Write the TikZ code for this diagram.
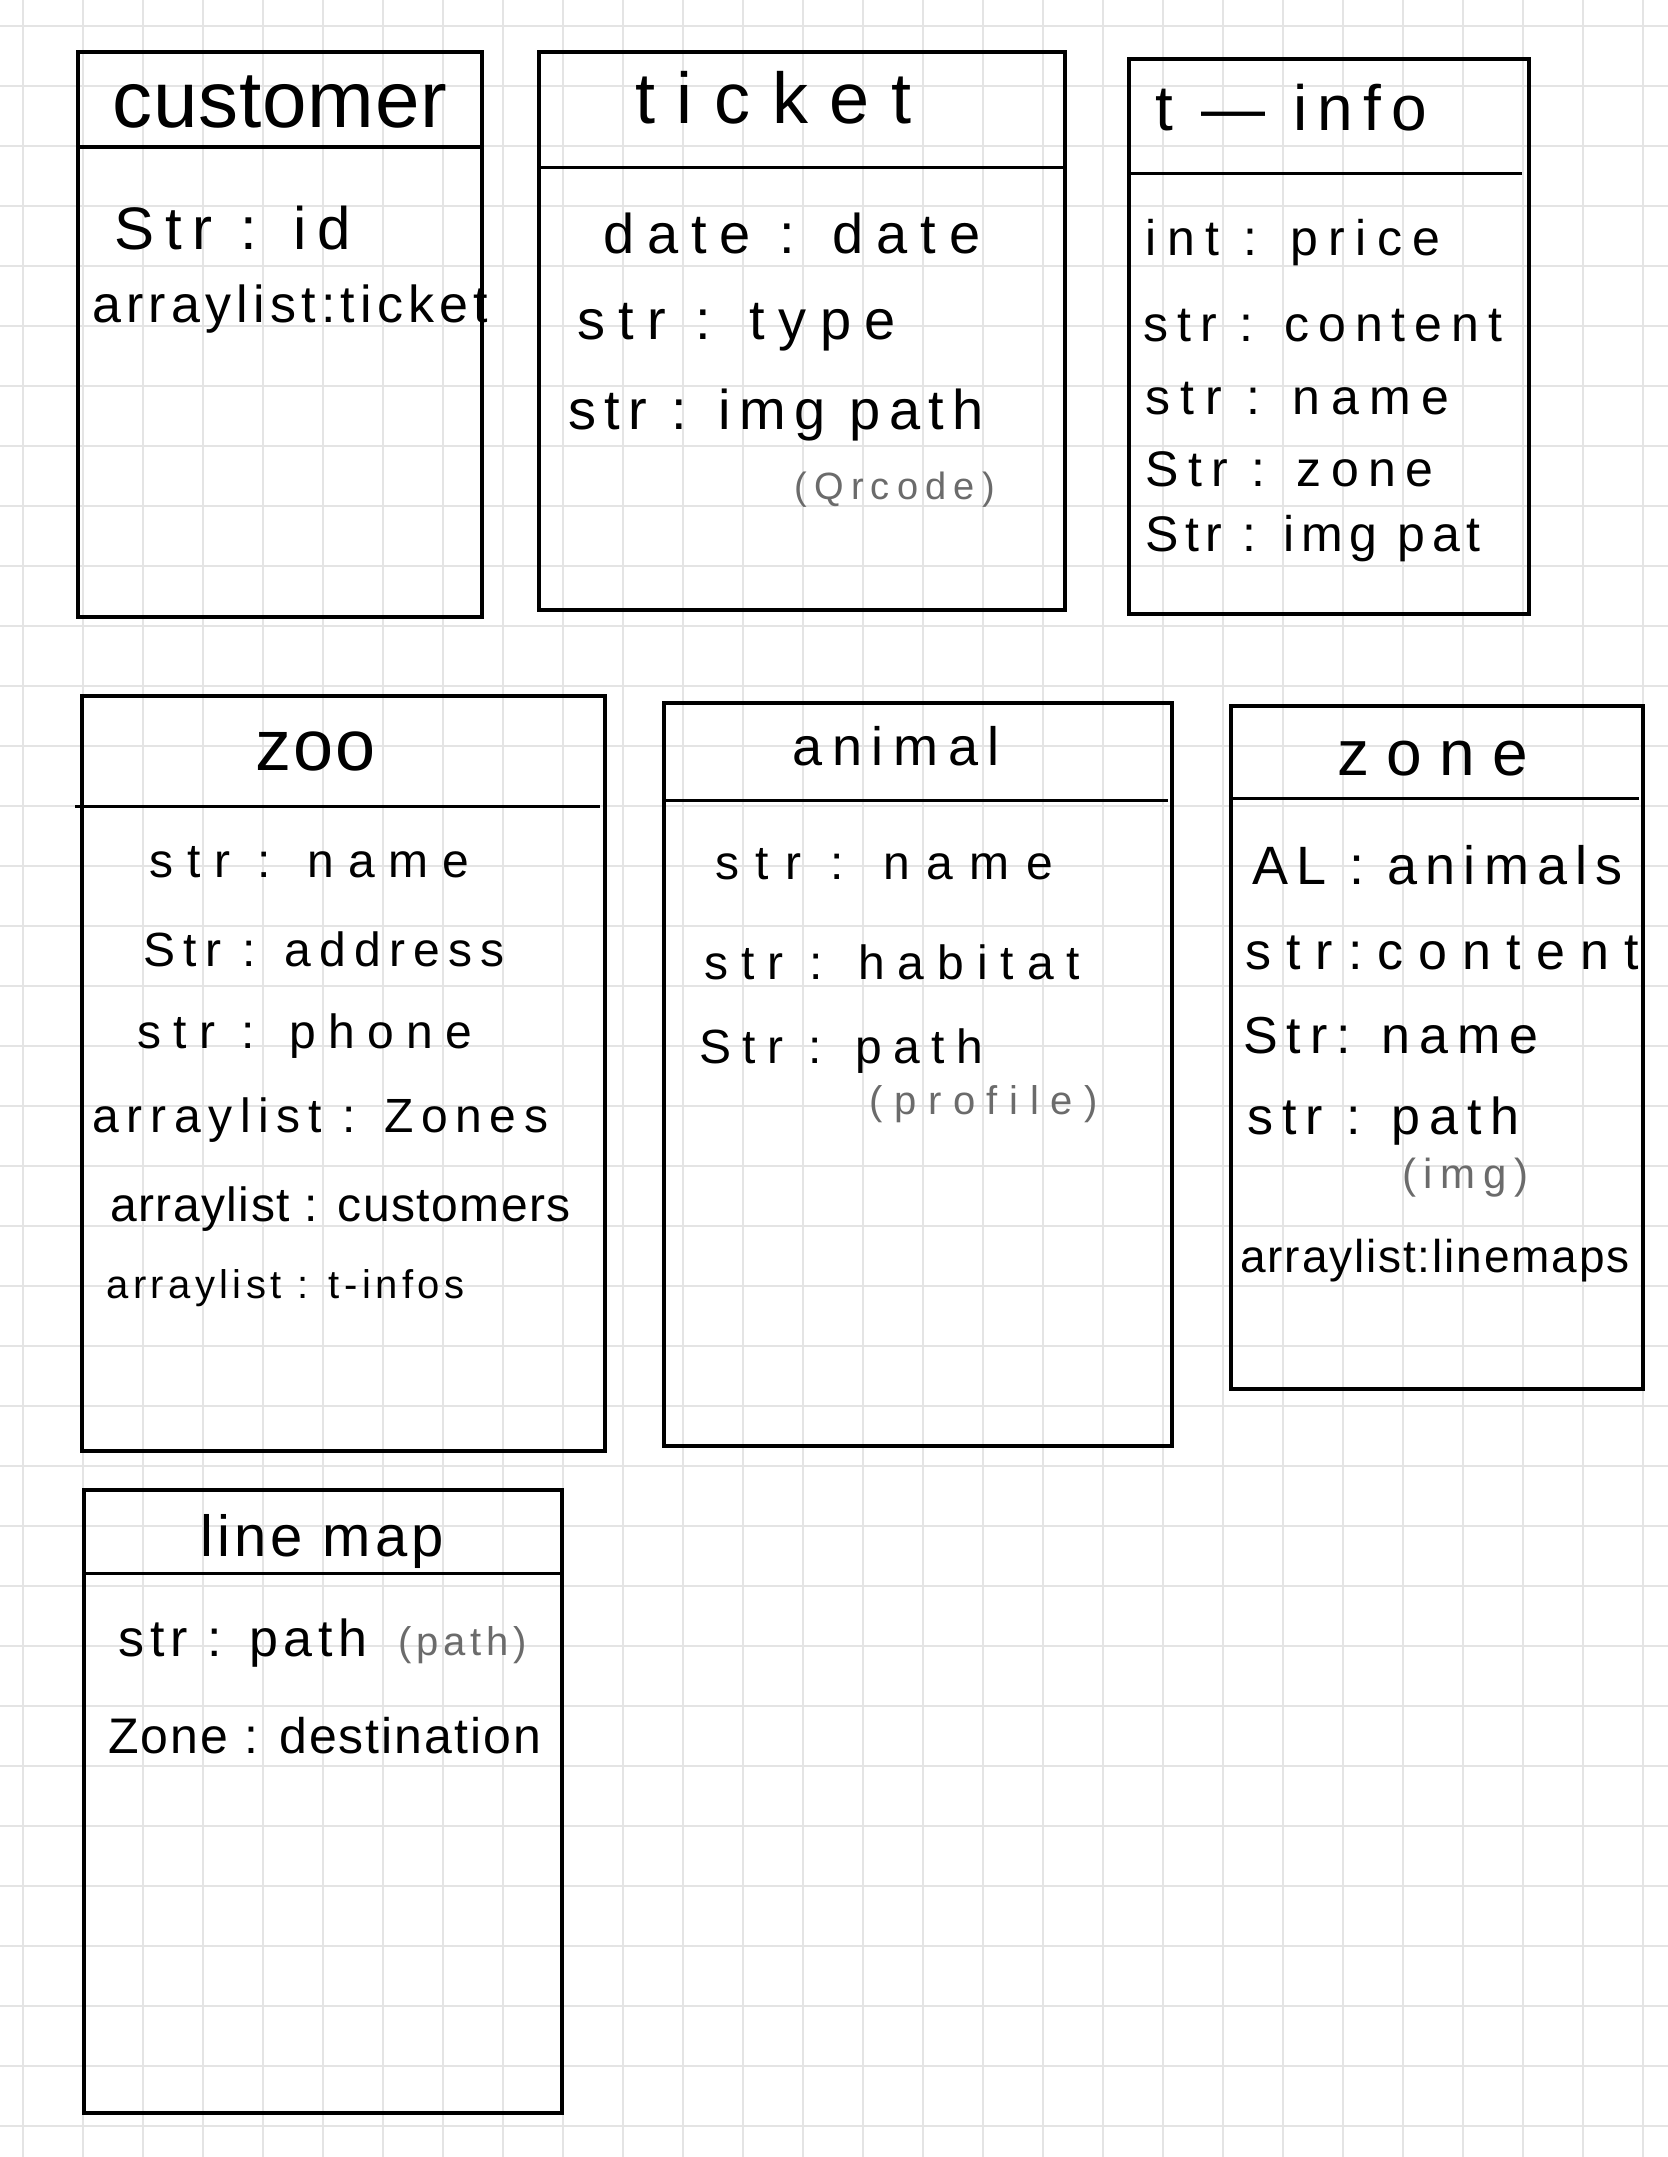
\documentclass[tikz,border=0pt]{standalone}
\usepackage{fontspec}
\setmainfont{Liberation Sans}
\definecolor{gridgray}{HTML}{E4E4E4}
\definecolor{pencilgray}{HTML}{6B6B6B}
\newcommand\handfont[2]{\fontsize{#1pt}{#1pt}\selectfont\addfontfeature{LetterSpace=#2}}

\begin{document}
\begin{tikzpicture}[
  x=0.5pt, y=-0.5pt,
  gridline/.style={gridgray, line width=1pt},
  classbox/.style={draw, line width=1.6pt},
  headline/.style={line width=1.5pt},
  txt/.style={anchor=base west, inner sep=0pt},
  pencil/.style={txt, text=pencilgray}
]
\fill[white] (0,0) rectangle (1668,2157);
\useasboundingbox (0,0) rectangle (1668,2157);
% paper grid
\foreach \gx in {23,83,...,1668} {\draw[gridline] (\gx,0) -- (\gx,2157);}
\foreach \gy in {26,86,...,2157} {\draw[gridline] (0,\gy) -- (1668,\gy);}

% customer
\draw[classbox] (78,52) rectangle (482,617);
\draw[headline] (78,147) -- (482,147);
\node[txt, font=\handfont{40}{1}] (customer) at (112,127) {customer};
\node[txt, font=\handfont{30}{18}] (customer-id) at (114,249) {Str : id};
\node[txt, font=\handfont{26}{10}] (customer-tickets) at (92,322) {arraylist:ticket};

% ticket
\draw[classbox] (539,52) rectangle (1065,610);
\draw[headline] (537,167) -- (1063,167);
\node[txt, font=\handfont{36}{30}] (ticket) at (635,124) {ticket};
\node[txt, font=\handfont{28}{23}] (ticket-date) at (603,253) {date : date};
\node[txt, font=\handfont{28}{24}] (ticket-type) at (577,339) {str : type};
\node[txt, font=\handfont{28}{15}] (ticket-img) at (568,429) {str : img path};
\node[pencil, font=\handfont{19}{19}] (ticket-qr) at (794,499) {(Qrcode)};

% t_info
\draw[classbox] (1129,59) rectangle (1529,614);
\draw[headline] (1129,173) -- (1522,173);
\node[txt, font=\handfont{32}{16}] (tinfo) at (1155,131) {t — info};
\node[txt, font=\handfont{25}{21}] (tinfo-price) at (1145,255) {int : price};
\node[txt, font=\handfont{25}{18}] (tinfo-content) at (1143,341) {str : content};
\node[txt, font=\handfont{25}{21}] (tinfo-name) at (1145,414) {str : name};
\node[txt, font=\handfont{25}{19}] (tinfo-zone) at (1145,486) {Str : zone};
\node[txt, font=\handfont{25}{13}] (tinfo-img) at (1145,551) {Str : img pat};

% zoo
\draw[classbox] (82,696) rectangle (605,1451);
\draw[headline] (75,806) -- (600,806);
\node[txt, font=\handfont{36}{3}] (zoo) at (255,770) {zoo};
\node[txt, font=\handfont{24}{29}] (zoo-name) at (149,877) {str : name};
\node[txt, font=\handfont{24}{17}] (zoo-address) at (143,966) {Str : address};
\node[txt, font=\handfont{24}{26}] (zoo-phone) at (137,1048) {str : phone};
\node[txt, font=\handfont{24}{16}] (zoo-zones) at (92,1132) {arraylist : Zones};
\node[txt, font=\handfont{24}{3}] (zoo-customers) at (110,1221) {arraylist : customers};
\node[txt, font=\handfont{20}{11}] (zoo-tinfos) at (106,1298) {arraylist : t-infos};

% animal
\draw[classbox] (664,703) rectangle (1172,1446);
\draw[headline] (664,800) -- (1168,800);
\node[txt, font=\handfont{27}{18}] (animal) at (792,765) {animal};
\node[txt, font=\handfont{24}{34}] (animal-name) at (715,879) {str : name};
\node[txt, font=\handfont{24}{27}] (animal-habitat) at (704,979) {str : habitat};
\node[txt, font=\handfont{24}{24}] (animal-path) at (699,1063) {Str : path};
\node[pencil, font=\handfont{20}{29}] (animal-profile) at (869,1114) {(profile)};

% zone
\draw[classbox] (1231,706) rectangle (1643,1389);
\draw[headline] (1231,798) -- (1639,798);
\node[txt, font=\handfont{32}{27}] (zone) at (1337,775) {zone};
\node[txt, font=\handfont{27}{15}] (zone-animals) at (1252,884) {AL : animals};
\node[txt, font=\handfont{26}{29}] (zone-content) at (1245,969) {str:content};
\node[txt, font=\handfont{26}{17}] (zone-name) at (1243,1053) {Str: name};
\node[txt, font=\handfont{26}{17}] (zone-path) at (1247,1134) {str : path};
\node[pencil, font=\handfont{21}{18}] (zone-img) at (1402,1188) {(img)};
\node[txt, font=\handfont{23}{4}] (zone-linemaps) at (1240,1272) {arraylist:linemaps};

% line map
\draw[classbox] (84,1490) rectangle (562,2113);
\draw[headline] (84,1573) -- (562,1573);
\node[txt, font=\handfont{29}{7}] (linemap) at (200,1556) {line map};
\node[txt, font=\handfont{26}{11}] (linemap-path) at (118,1656) {str : path};
\node[pencil, font=\handfont{20}{12}] (linemap-note) at (398,1655) {(path)};
\node[txt, font=\handfont{25}{4}] (linemap-dest) at (108,1753) {Zone : destination};
\end{tikzpicture}
\end{document}
